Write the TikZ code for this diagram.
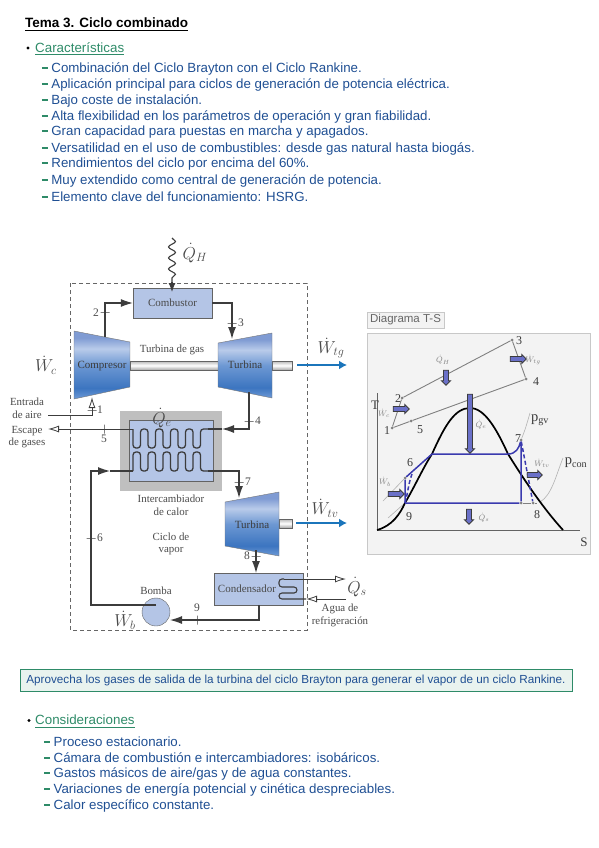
\documentclass[tikz,border=0pt]{standalone}
\usepackage{xcolor}
\usepackage{amssymb}
\usepackage{amsmath}
\usepackage{fontspec}
\setmainfont{Liberation Sans}
\newfontfamily\diagfont{Liberation Serif}
\usetikzlibrary{positioning,arrows.meta,shapes.arrows,decorations.pathmorphing}
\definecolor{NoteBlue}{HTML}{1F4F93}
\definecolor{NoteGreen}{HTML}{2E8B68}
\definecolor{BannerFill}{HTML}{E9F3EF}
\definecolor{PipeGray}{HTML}{3C3C3C}
\definecolor{LabelGray}{HTML}{4A4A4A}
\definecolor{BoxBlue}{HTML}{B4C5E6}
\definecolor{PowerBlue}{HTML}{1B75BB}
\definecolor{PanelGray}{HTML}{F3F3F3}
\definecolor{PanelEdge}{HTML}{C8C8C8}
\definecolor{CycleBlue}{HTML}{3A3AAE}
\definecolor{ArrowFill}{HTML}{6A70C8}
\definecolor{TurbA}{HTML}{6E9AD6}
\definecolor{TurbB}{HTML}{3C75C0}
\definecolor{TurbC}{HTML}{6D98D3}
\definecolor{TurbD}{HTML}{B9CBEA}
\definecolor{TurbE}{HTML}{7F9BD3}
\pgfdeclareverticalshading{turbshade}{100bp}{
  color(0bp)=(TurbA);
  color(25bp)=(TurbA);
  color(33bp)=(TurbB);
  color(50bp)=(TurbC);
  color(62bp)=(TurbD);
  color(70bp)=(TurbE);
  color(100bp)=(TurbE)}
\newcommand{\itemdash}{\textcolor{NoteGreen}{\rule[.26em]{6.3pt}{2pt}}\hspace{3.2pt}}

\begin{document}
\begin{tikzpicture}[x=1pt,y=-1pt,
  title/.style={anchor=west, inner sep=0pt, font=\fontsize{13.5}{15}\selectfont\bfseries},
  head/.style={anchor=west, inner sep=0pt, text=NoteGreen, font=\fontsize{13.35}{15}\selectfont},
  bullet/.style={circle, fill=black, inner sep=0pt, minimum size=3.4pt},
  entry/.style={anchor=west, inner sep=0pt, text=NoteBlue, font=\fontsize{13.3}{15}\selectfont},
  banner/.style={draw=NoteGreen, fill=BannerFill, text=NoteBlue, minimum width=552pt, minimum height=22pt, inner sep=0pt, font=\fontsize{11.7}{13}\selectfont},
  unit/.style={draw=PipeGray!80, fill=BoxBlue, align=center, text=LabelGray, font=\diagfont\fontsize{11}{12}\selectfont},
  turbo/.style={draw=PipeGray!70, shading=turbshade},
  tname/.style={inner sep=0pt, text=PipeGray, font=\diagfont\fontsize{11}{12}\selectfont},
  lab/.style={inner sep=0pt, align=center, text=LabelGray, font=\diagfont\fontsize{10.9}{12.6}\selectfont},
  num/.style={inner sep=0pt, text=LabelGray, font=\diagfont\fontsize{11.5}{12}\selectfont},
  sym/.style={inner sep=0pt, text=LabelGray, font=\fontsize{18}{20}\selectfont},
  pipe/.style={draw=PipeGray, line width=1.1pt},
  flow/.style={pipe, -{Latex[length=12pt,width=8pt]}},
  vent/.style={draw=PipeGray, line width=.8pt, -{Latex[open,length=11pt,width=7pt]}},
  coil/.style={draw=PipeGray, line width=1.3pt, rounded corners=3pt},
  htick/.style={draw=PipeGray, inner sep=0pt, minimum width=9pt, minimum height=0pt},
  vtick/.style={draw=PipeGray, inner sep=0pt, minimum width=0pt, minimum height=9pt},
  work/.style={draw=PowerBlue, line width=2.4pt, -{Latex[length=8pt,width=9pt]}},
  shaft/.style={draw=PipeGray!80, top color=gray!55, bottom color=gray!70, middle color=white},
  curve/.style={draw=black, line width=1.7pt},
  cycle/.style={draw=CycleBlue, line width=1.5pt},
  isobar/.style={draw=gray!60, line width=.6pt},
  state/.style={circle, fill=gray, inner sep=0pt, minimum size=3pt},
  tsarrow/.style={single arrow, draw=PipeGray, fill=ArrowFill, line width=.9pt, inner sep=0pt, text width=0pt, text height=2pt, text depth=2pt, minimum width=9pt, single arrow head extend=2pt, single arrow head indent=0pt},
  tsnum/.style={inner sep=0pt, text=PipeGray, font=\diagfont\fontsize{12}{13}\selectfont},
  tssym/.style={inner sep=0pt, text=gray, font=\fontsize{8}{9}\selectfont}]
\useasboundingbox (0,0) rectangle (599,848);

% upper notes
\node[title] (ttl) at (25,24.5) {\underline{Tema 3. Ciclo combinado}};
\node[bullet] (b1) at (28,48) {};
\node[head] (car) at (35,48.5) {\underline{Características}};
\node[entry] (e1) at (41.7,68.5)  {\itemdash Combinación del Ciclo Brayton con el Ciclo Rankine.};
\node[entry] (e2) at (41.7,85)    {\itemdash Aplicación principal para ciclos de generación de potencia eléctrica.};
\node[entry] (e3) at (41.7,101)   {\itemdash Bajo coste de instalación.};
\node[entry] (e4) at (41.7,117)   {\itemdash Alta flexibilidad en los parámetros de operación y gran fiabilidad.};
\node[entry] (e5) at (41.7,132.5) {\itemdash Gran capacidad para puestas en marcha y apagados.};
\node[entry] (e6) at (41.7,148.5) {\itemdash Versatilidad en el uso de combustibles: desde gas natural hasta biogás.};
\node[entry] (e7) at (41.7,164.5) {\itemdash Rendimientos del ciclo por encima del 60\%.};
\node[entry] (e8) at (41.7,180.5) {\itemdash Muy extendido como central de generación de potencia.};
\node[entry] (e9) at (41.7,196.5) {\itemdash Elemento clave del funcionamiento: HSRG.};

% plant
\draw[dashed, gray!80!black, line width=.7pt, dash pattern=on 4pt off 3pt] (70,283) rectangle (307,630);
\path[shaft] (130,361) rectangle (218,370);
\path[shaft] (272,361) rectangle (292,370);
\path[shaft] (279,519) rectangle (292,528);
\path[turbo] (74,331) -- (130,342) -- (130,387) -- (74,399) -- cycle;
\path[turbo] (218,343) -- (272,333) -- (272,398) -- (218,387) -- cycle;
\path[turbo] (225,502) -- (279,492) -- (279,556) -- (225,546) -- cycle;
\node[tname] (comp) at (102,366) {Compresor};
\node[tname] (tg)   at (245,365) {Turbina};
\node[tname] (tv)   at (252,525) {Turbina};
\node[unit, minimum width=79pt, minimum height=30pt, inner sep=0pt] (comb) at (172.5,303) {Combustor};
\node[unit, anchor=north west, minimum width=89pt, minimum height=32pt, inner sep=0pt] (cond) at (214,573) {};
\node[tname, text=LabelGray] (condt) at (247,589) {Condensador};
\fill[gray!50] (120,411) rectangle (222,491);
\node[unit, anchor=north west, minimum width=84pt, minimum height=61pt, inner sep=0pt] (hx) at (129,420) {};
\node[circle, draw=PipeGray!80, fill=BoxBlue, minimum size=28pt, inner sep=0pt] (pump) at (156,612) {};

% named ends
\coordinate (qhtop) at (172,238);
\coordinate (qhend) at (172,282);
\coordinate (qhtip) at (172,292);
\coordinate (st1) at (92,397);
\coordinate (st1a) at (48,415);
\coordinate (st2) at (105,337);
\coordinate (st3) at (232,339);
\coordinate (st4) at (249,392);
\coordinate (gasin) at (222,429);
\coordinate (gasa) at (133,429);
\coordinate (gasb) at (208,429);
\coordinate (gasout) at (48,429);
\coordinate (vapa) at (133,471);
\coordinate (vapb) at (208,471);
\coordinate (st7) at (239,498);
\coordinate (st8) at (256,550);
\coordinate (pumpout) at (156,605);
\coordinate (st6a) at (91,605);
\coordinate (st6b) at (91,471);
\coordinate (st6c) at (110,471);
\coordinate (st9) at (170,620);
\coordinate (st9a) at (259,620);
\coordinate (st9b) at (259,605);
\coordinate (qsout) at (346,579);
\coordinate (watin) at (346,599);
\coordinate (watend) at (306,599);

% pipes
\draw[pipe, decorate, decoration={snake, amplitude=3.5pt, segment length=11pt}] (qhtop) -- (qhend);
\draw[pipe, -{Latex[length=9pt,width=7pt]}] (qhend) -- (qhtip);
\draw[flow] (st2) |- (comb.west);
\draw[flow] (comb.east) -| (st3);
\draw[flow] (st4) |- (gasin);
\draw[pipe] (gasin) -- (gasb);
\draw[vent] (st1a) -| (st1);
\draw[vent] (gasa) -- (gasout);
\draw[coil] (gasa) \foreach \i in {1,...,5} { -- ++(0,19) -- ++(7.5,0) -- ++(0,-19) -- ++(7.5,0) };
\draw[coil] (vapa) \foreach \i in {1,...,5} { -- ++(0,-19) -- ++(7.5,0) -- ++(0,19) -- ++(7.5,0) };
\draw[flow] (pumpout) -- (st6a) -- (st6b) -- (st6c);
\draw[pipe] (st6c) -- (vapa);
\draw[flow] (vapb) -| (st7);
\draw[flow] (st8) -- (cond.north -| st8);
\draw[flow] (st9b) -- (st9a) -- (st9);
\draw[vent] (284,579) -- (qsout);
\draw[coil, line width=1.1pt] (284,579) -- (279,579) -- (279,587) -- (297,587) -- (297,593) -- (279,593) -- (279,599) -- (306,599);
\draw[vent] (watin) -- (watend);
\draw[work] (297,365) -- (347,365);
\draw[work] (296,523) -- (347,523);

% station ticks and numbers
\node[htick] (tk1) at (92,410) {};
\node[htick] (tk2) at (105,312) {};
\node[htick] (tk3) at (232,323) {};
\node[htick] (tk4) at (249,421) {};
\node[vtick] (tk5) at (104,429) {};
\node[htick] (tk6) at (91,538) {};
\node[htick] (tk7) at (239,482) {};
\node[htick] (tk8) at (256,556) {};
\node[vtick] (tk9) at (197,620) {};
\node[num] (n1) at (100,410) {1};
\node[num] (n2) at (96,313) {2};
\node[num] (n3) at (241,323) {3};
\node[num] (n4) at (258,421) {4};
\node[num] (n5) at (104,439) {5};
\node[num] (n6) at (100,538) {6};
\node[num] (n7) at (248,482) {7};
\node[num] (n8) at (247,556) {8};
\node[num] (n9) at (197,608) {9};

% plant labels
\node[lab] (gas)  at (172,350) {Turbina de gas};
\node[lab] (air)  at (27,408)  {Entrada\\de aire};
\node[lab] (esc)  at (27,437)  {Escape\\de gases};
\node[lab] (ihx)  at (171,505.5) {Intercambiador\\de calor};
\node[lab] (cic)  at (171,544) {Ciclo de\\vapor};
\node[lab] (bom)  at (156,591) {Bomba};
\node[lab] (agua) at (340,615.5) {Agua de\\refrigeración};
\node[sym] (qh)  at (195,253) {$\dot{Q}_{H}$};
\node[sym] (wc)  at (46,365)  {$\dot{W}_{c}$};
\node[sym] (wtg) at (331,348) {$\dot{W}_{tg}$};
\node[sym] (qe)  at (162,418) {$\dot{Q}_{e}$};
\node[sym] (wtv) at (325,508) {$\dot{W}_{tv}$};
\node[sym] (qs)  at (357,587) {$\dot{Q}_{s}$};
\node[sym] (wb)  at (125,620) {$\dot{W}_{b}$};

% T-S panel
\node[draw=PanelEdge, line width=.8pt, fill=PanelGray, minimum width=77pt, minimum height=16pt, inner sep=0pt, text=gray!80!black, font=\fontsize{11.5}{13}\selectfont] (tsname) at (405.5,320) {Diagrama T-S};
\draw[draw=PanelEdge, line width=1pt, fill=PanelGray] (367,333) rectangle (590,554);
\coordinate (o) at (377,530);
\coordinate (taxis) at (377,393);
\coordinate (saxis) at (580,530);
\draw[PipeGray!80, line width=.8pt] (taxis) -- (o) -- (saxis);
\node[state] (p1) at (392,428) {};
\node[state] (p2) at (402,398) {};
\node[state] (p3) at (512,340) {};
\node[state] (p4) at (526,379) {};
\node[state] (p5) at (411,421) {};
\node[state] (p6) at (405,478) {};
\node[state] (p7) at (521,440) {};
\node[state] (p8) at (533,503) {};
\node[state] (p9) at (521,503) {};
\draw[draw=gray, line width=.9pt] (p1) -- (p2) -- (p3) -- (p4) -- (p5) -- (p1);
\draw[isobar] (383,501) -- (p6);
\draw[isobar] (388,518) -- (405,503);
\draw[isobar] (p7) .. controls (525,430) .. (530,413);
\draw[isobar] (540,502) .. controls (552,495) and (556,475) .. (563,458);
\draw[curve] (o) .. controls (392,526) and (400,514) .. (405,503) .. controls (416,484) and (423,468) .. (432,454) .. controls (445,425) and (455,408) .. (470,408) .. controls (485,408) and (497,430) .. (508,454) .. controls (518,470) and (540,505) .. (563,530);
\coordinate (c9) at (405,503);
\coordinate (c6) at (432,454);
\coordinate (c7) at (508,454);
\draw[cycle] (c9) -- (p9) -- (p7) .. controls (519,448) and (516,454) .. (c7) -- (c6) -- (p6) -- (c9);
\draw[cycle, dashed, dash pattern=on 4pt off 2.5pt] (p7) -- (p8);
\draw[cycle, dashed, dash pattern=on 4pt off 2.5pt] (c9) .. controls (408,493) and (408,485) .. (412,474);
\draw[isobar, gray, line width=.8pt] (p9) -- (p8) -- (537,503);
\node[tsarrow, minimum height=59pt, rotate=-90] (aqe) at (470,422.5) {};
\node[tsarrow, minimum height=15pt, rotate=-90] (aqh) at (446,376.5) {};
\node[tsarrow, minimum height=16pt] (awtg) at (517,359) {};
\node[tsarrow, minimum height=16pt] (awc) at (400,409) {};
\node[tsarrow, minimum height=16pt] (awb) at (395,494) {};
\node[tsarrow, minimum height=15pt] (awtv) at (533.5,475) {};
\node[tsarrow, minimum height=15pt, rotate=-90] (aqs) at (469,515.5) {};
\node[tsnum] (l1) at (387,431) {1};
\node[tsnum] (l2) at (398,399) {2};
\node[tsnum] (l3) at (519,341) {3};
\node[tsnum] (l4) at (536,382) {4};
\node[tsnum] (l5) at (420,430) {5};
\node[tsnum] (l6) at (410,463) {6};
\node[tsnum] (l7) at (518,439) {7};
\node[tsnum] (l8) at (537,515) {8};
\node[tsnum] (l9) at (409,517) {9};
\node[inner sep=0pt, text=PipeGray, font=\diagfont\fontsize{13}{14}\selectfont] (lt) at (375,405) {T};
\node[inner sep=0pt, text=PipeGray, font=\diagfont\fontsize{13}{14}\selectfont] (ls) at (584,542) {S};
\node[inner sep=0pt, text=PipeGray, font=\diagfont\fontsize{14.5}{16}\selectfont] (pgv) at (540,420) {p\textsubscript{gv}};
\node[inner sep=0pt, text=PipeGray, font=\diagfont\fontsize{14.5}{16}\selectfont] (pcon) at (576,463) {p\textsubscript{con}};
\node[tssym] (sqh)  at (443,360) {$\dot{Q}_{H}$};
\node[tssym] (swtg) at (533,360) {$\dot{W}_{tg}$};
\node[tssym] (swc)  at (384,413) {$\dot{W}_{c}$};
\node[tssym] (sqe)  at (481,425) {$\dot{Q}_{e}$};
\node[tssym] (swtv) at (542,463) {$\dot{W}_{tv}$};
\node[tssym] (swb)  at (385,482) {$\dot{W}_{b}$};
\node[tssym] (sqs)  at (484,518) {$\dot{Q}_{s}$};

% lower notes
\node[banner] (ban) at (296,680) {Aprovecha los gases de salida de la turbina del ciclo Brayton para generar el vapor de un ciclo Rankine.};
\node[bullet] (b2) at (29,720.5) {};
\node[head] (con) at (35,721.5) {\underline{Consideraciones}};
\node[entry] (f1) at (44,741.5) {\itemdash Proceso estacionario.};
\node[entry] (f2) at (44,758)   {\itemdash Cámara de combustión e intercambiadores: isobáricos.};
\node[entry] (f3) at (44,773.5) {\itemdash Gastos másicos de aire/gas y de agua constantes.};
\node[entry] (f4) at (44,789.5) {\itemdash Variaciones de energía potencial y cinética despreciables.};
\node[entry] (f5) at (44,805.5) {\itemdash Calor específico constante.};
\end{tikzpicture}
\end{document}
